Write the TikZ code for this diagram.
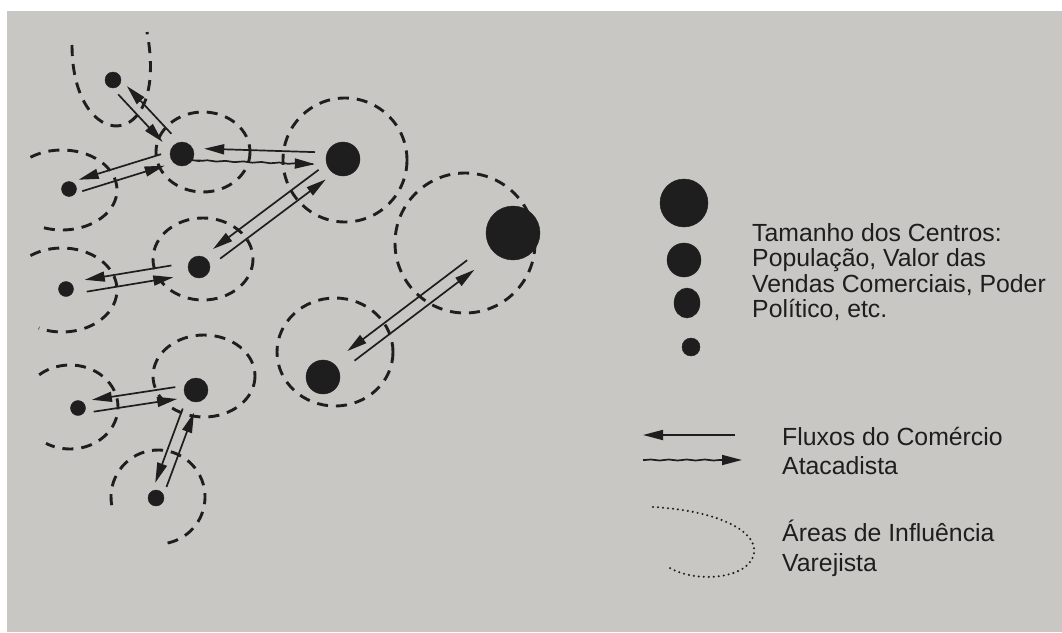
\documentclass[tikz,border=0pt]{standalone}
\usepackage{fontspec}
\setmainfont{Liberation Sans}
\usetikzlibrary{calc,arrows.meta,decorations.pathmorphing,shapes.geometric}
\definecolor{page}{RGB}{201,199,195}
\definecolor{ink}{RGB}{30,30,30}
\tikzset{
    town/.style={circle, fill=ink, draw=ink, inner sep=0pt},
    area/.style={draw=ink, line width=2.9pt, dash pattern=on 11pt off 8pt},
    flow/.style={draw=ink, line width=1.7pt, -{Triangle[length=20pt,width=10pt]}},
    wavy/.style={decorate, decoration={snake, amplitude=.5pt, segment length=18pt,
        pre length=2pt, post length=22pt}},
    label/.style={text=ink, inner sep=0pt, align=left,
        font=\fontsize{24.8}{25.3}\selectfont}
}
% two opposite flows between two centres: from, to, gap at from, gap at to, look
\newcommand\trade[5]{%
  \draw[flow,#5,shorten <=#3,shorten >=#4] ($(#1)!6pt!-90:(#2)$) -- ($(#2)!6pt!90:(#1)$);
  \draw[flow,shorten <=#4,shorten >=#3] ($(#2)!6pt!-90:(#1)$) -- ($(#1)!6pt!90:(#2)$);
}

\begin{document}
\begin{tikzpicture}[x=1pt, y=-1pt]
	\useasboundingbox (0,0) rectangle (1062,632);
	\fill[white] (0,0) rectangle (1062,632);
	\fill[page] (7,11) rectangle (1062,632);

	% areas of retail influence
	\draw[area] (72,45) .. controls (72,155) and (170,155) .. (147,32);
	\draw[area] (62,190) ++(-125:55 and 40) arc[start angle=-125, end angle=115, x radius=55, y radius=40];
	\draw[area] (62,290) ++(-125:55 and 42) arc[start angle=-125, end angle=115, x radius=55, y radius=42];
	\draw[area] (70,407) ++(-130:48 and 42) arc[start angle=-130, end angle=120, x radius=48, y radius=42];
	\draw[area] (158,497) ++(170:47 and 47) arc[start angle=170, end angle=445, radius=47];
	\draw[area] (203,152) ellipse [x radius=47, y radius=40];
	\draw[area] (345,160) circle [radius=62];
	\draw[area] (465,243) circle [radius=70];
	\draw[area] (203,259) ellipse [x radius=50, y radius=41];
	\draw[area] (335,352) ellipse [x radius=58, y radius=54];
	\draw[area] (204,376) ellipse [x radius=51, y radius=41];

	% centres
	\node[town, minimum size=16pt] (1) at (113,80) {};
	\node[town, minimum size=24pt] (2) at (182,154) {};
	\node[town, minimum size=34pt] (3) at (343,159) {};
	\node[town, minimum size=54pt] (4) at (513,233) {};
	\node[town, minimum size=15pt] (5) at (69,189) {};
	\node[town, minimum size=22pt] (6) at (199,267) {};
	\node[town, minimum size=15pt] (7) at (66,289) {};
	\node[town, minimum size=34pt] (8) at (323,377) {};
	\node[town, minimum size=24pt] (9) at (196,390) {};
	\node[town, minimum size=15pt] (10) at (78,408) {};
	\node[town, minimum size=16pt] (11) at (156,498) {};

	% wholesale flows
	\trade{1}{2}{14pt}{22pt}{}
	\trade{5}{2}{12pt}{20pt}{}
	\trade{2}{3}{22pt}{28pt}{wavy}
	\trade{6}{3}{22pt}{26pt}{}
	\trade{7}{6}{20pt}{27pt}{}
	\trade{8}{4}{35pt}{53pt}{}
	\trade{10}{9}{15pt}{20pt}{}
	\trade{11}{9}{14pt}{22pt}{}

	% legend
	\node[town, minimum size=48pt] (L1) at (684,203) {};
	\node[town, minimum size=34pt] (L2) at (684,260) {};
	\node[town, ellipse, minimum width=26pt, minimum height=30pt] (L3) at (687,303) {};
	\node[town, minimum size=18pt] (L4) at (691,347) {};
	\node[label, anchor=north west] (size) at (752,223.5)
		{Tamanho dos Centros:\\População, Valor das\\Vendas Comerciais, Poder\\Político, etc.};

	\coordinate (fa) at (735,435);
	\coordinate (fb) at (643,435);
	\coordinate (fc) at (643,460);
	\coordinate (fd) at (742,460);
	\draw[flow] (fa) -- (fb);
	\draw[flow, wavy] (fc) -- (fd);
	\node[label, anchor=north west, font=\fontsize{24.8}{29.5}\selectfont] (flows) at (782,427)
		{Fluxos do Comércio\\Atacadista};

	\draw[ink, line width=2.3pt, dash pattern=on 0pt off 5pt, line cap=round]
		(653,507) .. controls (740,512) and (772,545) .. (745,567)
		.. controls (728,580) and (690,580) .. (670,568);
	\node[label, anchor=north west, font=\fontsize{24.8}{30}\selectfont] (areas) at (782,519.5)
		{Áreas de Influência\\Varejista};
\end{tikzpicture}
\end{document}
